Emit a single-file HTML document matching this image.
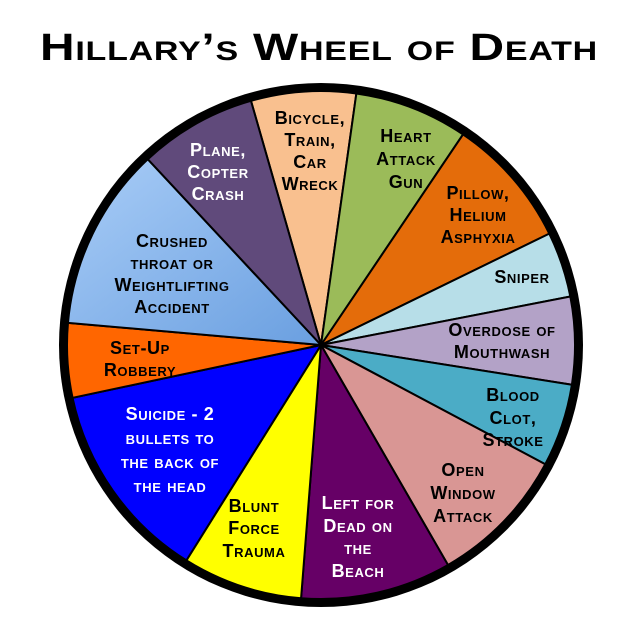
<!DOCTYPE html>
<html><head><meta charset="utf-8"><style>
html,body{margin:0;padding:0;background:#fff;width:640px;height:640px;overflow:hidden}
svg{display:block}
text{font-family:"Liberation Sans",sans-serif;font-weight:bold;font-variant:small-caps;text-anchor:middle;font-size:18px;letter-spacing:0.6px}
.w{fill:#fff}
.b{fill:#000}
</style></head><body>
<svg width="640" height="640" viewBox="0 0 640 640" xmlns="http://www.w3.org/2000/svg">
<defs>
<linearGradient id="lb" x1="0" y1="0" x2="1" y2="1">
<stop offset="0" stop-color="#a9cdf7"/><stop offset="1" stop-color="#6a9fe0"/>
</linearGradient>
</defs>
<text x="40" y="60" textLength="558" lengthAdjust="spacingAndGlyphs" style="font-size:38px;text-anchor:start" class="b">Hillary’s Wheel of Death</text>
<circle cx="321" cy="345" r="262" fill="#000"/>
<g id="wedges"></g>
<g>
<text class="b" x="310" y="124">Bicycle,</text>
<text class="b" x="310" y="146">Train,</text>
<text class="b" x="310" y="168">Car</text>
<text class="b" x="310" y="190">Wreck</text>
<text class="b" x="406" y="142">Heart</text>
<text class="b" x="406" y="165">Attack</text>
<text class="b" x="406" y="188">Gun</text>
<text class="b" x="478" y="199">Pillow,</text>
<text class="b" x="478" y="221">Helium</text>
<text class="b" x="478" y="243">Asphyxia</text>
<text class="b" x="522" y="283">Sniper</text>
<text class="b" x="502" y="336">Overdose of</text>
<text class="b" x="502" y="358">Mouthwash</text>
<text class="b" x="513" y="401">Blood</text>
<text class="b" x="513" y="424">Clot,</text>
<text class="b" x="513" y="446">Stroke</text>
<text class="b" x="463" y="476">Open</text>
<text class="b" x="463" y="499">Window</text>
<text class="b" x="463" y="522">Attack</text>
<text class="w" x="358" y="509">Left for</text>
<text class="w" x="358" y="532">Dead on</text>
<text class="w" x="358" y="554">the</text>
<text class="w" x="358" y="577">Beach</text>
<text class="b" x="254" y="512">Blunt</text>
<text class="b" x="254" y="534">Force</text>
<text class="b" x="254" y="557">Trauma</text>
<text class="w" x="170" y="420">Suicide - 2</text>
<text class="w" x="170" y="444">bullets to</text>
<text class="w" x="170" y="468">the back of</text>
<text class="w" x="170" y="492">the head</text>
<text class="b" x="140" y="354">Set-Up</text>
<text class="b" x="140" y="376">Robbery</text>
<text class="b" x="172" y="247">Crushed</text>
<text class="b" x="172" y="269">throat or</text>
<text class="b" x="172" y="291">Weightlifting</text>
<text class="b" x="172" y="313">Accident</text>
<text class="w" x="218" y="156">Plane,</text>
<text class="w" x="218" y="178">Copter</text>
<text class="w" x="218" y="200">Crash</text>
</g>
</svg>
<script>
var cx=321,cy=345,r=254;
var w=[[-16,8,"#f9c08f"],[8,34,"#9bbb59"],[34,64,"#e46c0a"],[64,79,"#b7dee8"],[79,99,"#b3a2c7"],[99,118,"#4bacc6"],[118,150,"#d99694"],[150,184.5,"#660066"],[184.5,212,"#ffff00"],[212,258,"#0000ff"],[258,275,"#ff6600"],[275,317,"url(#lb)"],[317,344,"#604a7b"]];
function p(a){var t=a*Math.PI/180;return [cx+r*Math.sin(t),cy-r*Math.cos(t)];}
var g=document.getElementById("wedges"),s="";
w.forEach(function(x){var a=p(x[0]),b=p(x[1]);var l=(x[1]-x[0])>180?1:0;
s+='<path d="M'+cx+' '+cy+' L'+a[0]+' '+a[1]+' A'+r+' '+r+' 0 '+l+' 1 '+b[0]+' '+b[1]+' Z" fill="'+x[2]+'" stroke="#000" stroke-width="2"/>';});
g.innerHTML=s;
</script>
</body></html>
